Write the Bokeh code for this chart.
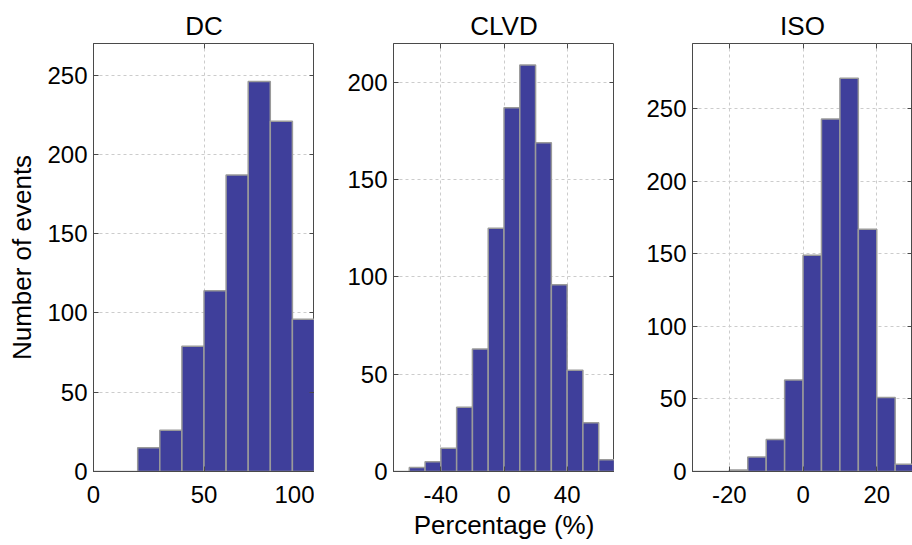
from bokeh.plotting import figure
from bokeh.layouts import row
from bokeh.models import FixedTicker, Range1d, LinearAxis, NumeralTickFormatter
from bokeh.embed import file_html
from bokeh.resources import INLINE

# ---- data ----
dc_edges = [0, 10, 20, 30, 40, 50, 60, 70, 80, 90, 100]
dc_counts = [0, 0, 15, 26, 79, 114, 187, 246, 221, 96]

clvd_edges = [-70, -60, -50, -40, -30, -20, -10, 0, 10, 20, 30, 40, 50, 60, 70]
clvd_counts = [0, 2, 5, 12, 33, 63, 125, 187, 209, 169, 96, 52, 25, 6]

iso_edges = [-30, -25, -20, -15, -10, -5, 0, 5, 10, 15, 20, 25, 30]
iso_counts = [0, 0, 1, 10, 22, 63, 149, 243, 271, 167, 51, 5]

titles = ["DC", "CLVD", "ISO"]
dc_xticks = [0, 50, 100]
clvd_xticks = [-40, 0, 40]
iso_xticks = [-20, 0, 20]
dc_yticks = [0, 50, 100, 150, 200, 250]
clvd_yticks = [0, 50, 100, 150, 200]
iso_yticks = [0, 50, 100, 150, 200, 250]

FONT = "Liberation Sans"
BAR = "#3f3f9b"
EDGE = "#9a9a9a"
FRAME = "#4a4a4a"


def mirror_axis(ticks):
    ax = LinearAxis(ticker=FixedTicker(ticks=ticks))
    ax.major_tick_in = 5
    ax.major_tick_out = 0
    ax.minor_tick_line_color = None
    ax.major_tick_line_color = FRAME
    ax.axis_line_color = None
    ax.major_label_standoff = 0
    ax.major_label_text_font_size = "0px"
    ax.major_label_overrides = {t: "" for t in ticks}
    return ax


def panel(title, edges, counts, xticks, yticks, xr, yr, left, fw, ylabel=None, xlabel=None):
    p = figure(frame_width=fw, frame_height=428, min_border_left=left, min_border_right=0,
               min_border_top=43, min_border_bottom=74,
               x_range=Range1d(*xr), y_range=Range1d(*yr),
               output_backend="svg", toolbar_location=None, title=title)
    p.title.text_font = FONT
    p.title.text_font_size = "26px"
    p.title.text_font_style = "normal"
    p.title.align = "center"
    p.title.text_color = "black"
    p.title.standoff = 6
    p.quad(left=edges[:-1], right=edges[1:], bottom=[0] * len(counts), top=counts,
           fill_color=BAR, line_color=EDGE, line_width=1.5)
    p.outline_line_color = FRAME
    p.outline_line_width = 1
    for ax in (p.xaxis, p.yaxis):
        ax.major_label_text_font = FONT
        ax.major_label_text_font_size = "24px"
        ax.major_label_text_color = "black"
        ax.major_tick_in = 5
        ax.major_tick_out = 0
        ax.minor_tick_line_color = None
        ax.axis_line_color = FRAME
        ax.major_tick_line_color = FRAME
        ax.axis_label_text_font = FONT
        ax.axis_label_text_font_size = "26px"
        ax.axis_label_text_font_style = "normal"
        ax.axis_label_text_color = "black"
    p.xaxis.ticker = FixedTicker(ticks=xticks)
    p.xaxis.formatter = NumeralTickFormatter(format="0")
    p.yaxis.ticker = FixedTicker(ticks=yticks)
    p.xaxis.major_label_standoff = 14
    p.yaxis.major_label_standoff = 6
    if ylabel:
        p.yaxis.axis_label = ylabel
        p.yaxis.axis_label_standoff = 7
    if xlabel:
        p.xaxis.axis_label = xlabel
        p.xaxis.axis_label_standoff = 4
    p.grid.grid_line_color = "#cccccc"
    p.grid.grid_line_dash = "3 3"
    p.grid.grid_line_width = 1
    p.xgrid.ticker = FixedTicker(ticks=xticks)
    p.ygrid.ticker = FixedTicker(ticks=yticks)
    p.add_layout(mirror_axis(yticks), "right")
    p.add_layout(mirror_axis(xticks), "above")
    p.background_fill_color = "white"
    p.border_fill_color = "white"
    return p


p1 = panel(titles[0], dc_edges, dc_counts, dc_xticks, dc_yticks, (0, 100), (0, 270), 93, 221,
           ylabel="Number of events")
p2 = panel(titles[1], clvd_edges, clvd_counts, clvd_xticks, clvd_yticks, (-70, 70), (0, 220), 79, 221,
           xlabel="Percentage (%)")
p3 = panel(titles[2], iso_edges, iso_counts, iso_xticks, iso_yticks, (-30, 29.7), (0, 295), 78, 220)

layout = row(p1, p2, p3, spacing=0)
open("out.html", "w").write(file_html(layout, INLINE))
